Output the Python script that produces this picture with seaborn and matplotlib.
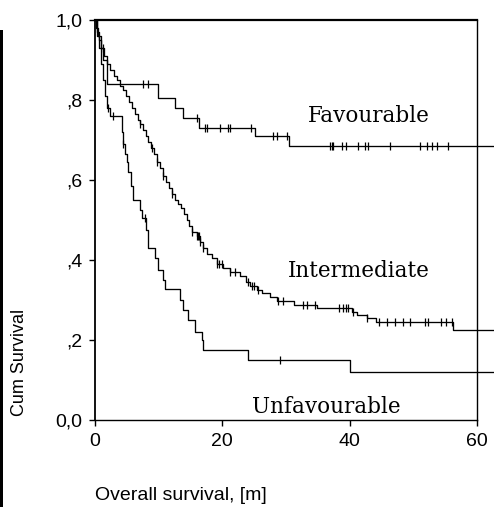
import numpy as np
import pandas as pd
import matplotlib
matplotlib.use("Agg")
import matplotlib.pyplot as plt
import seaborn as sns

# Kaplan-Meier step estimates: event times (months) and survival after each step
fav_times = [0, 0.2, 0.5, 0.9, 1.3, 1.9, 9.9, 12.5, 13.8, 16.3, 25.1, 30.4]
fav_surv = [1.0, 0.98, 0.96, 0.93, 0.90, 0.84, 0.805, 0.78, 0.755, 0.73, 0.71, 0.685]
fav_censored = [7.5, 8.3, 16.0, 17.3, 17.6, 19.6, 20.9, 21.2, 24.5, 27.9, 28.6, 30.1,
                36.9, 37.2, 37.4, 38.8, 39.5, 41.3, 42.4, 42.9, 46.3, 51.0, 52.1,
                52.9, 53.7, 55.4]

int_times = [0, 0.3, 0.6, 0.9, 1.4, 1.9, 2.4, 3.0, 3.5, 3.9, 4.4, 4.9, 5.3, 5.8, 6.3,
             6.7, 7.1, 7.5, 8.0, 8.3, 8.8, 9.3, 9.7, 10.2, 10.7, 11.1, 11.6, 12.1,
             12.6, 13.0, 13.5, 14.0, 14.4, 14.8, 15.2, 16.0, 16.5, 16.9, 17.6, 18.4,
             19.1, 20.1, 21.2, 22.8, 23.7, 24.3, 25.4, 26.2, 27.5, 28.6, 31.2, 34.8,
             40.3, 41.1, 42.7, 44.2, 56.2]
int_surv = [1.0, 0.97, 0.95, 0.93, 0.91, 0.89, 0.875, 0.86, 0.85, 0.835, 0.825, 0.81,
            0.795, 0.78, 0.765, 0.75, 0.74, 0.725, 0.71, 0.695, 0.68, 0.665, 0.645,
            0.63, 0.61, 0.595, 0.58, 0.565, 0.55, 0.54, 0.53, 0.515, 0.5, 0.485, 0.47,
            0.46, 0.445, 0.43, 0.415, 0.405, 0.39, 0.38, 0.37, 0.36, 0.345, 0.335,
            0.325, 0.318, 0.308, 0.297, 0.288, 0.28, 0.27, 0.262, 0.255, 0.245, 0.225]
int_censored = [1.2, 7.1, 8.9, 9.7, 10.7, 12.1, 15.2, 16.0, 16.2, 16.3, 16.5, 16.9,
                19.1, 19.5, 19.9, 21.2, 22.0, 24.0, 24.6, 25.0, 25.6, 28.7, 29.5,
                32.6, 33.3, 34.6, 38.4, 38.9, 39.4, 39.7, 40.5, 42.8, 44.6, 45.8,
                47.1, 48.3, 49.4, 51.8, 52.3, 54.4, 55.2, 56.0]

unf_times = [0, 0.3, 0.6, 0.9, 1.25, 1.6, 1.9, 2.4, 4.2, 4.4, 4.7, 5.0, 5.2, 5.65, 6.0,
             7.1, 7.4, 8.0, 8.3, 9.4, 9.9, 10.7, 11.0, 13.3, 13.8, 14.6, 15.7, 16.8,
             16.9, 24.0, 40.0]
unf_surv = [1.0, 0.96, 0.93, 0.89, 0.85, 0.81, 0.78, 0.76, 0.72, 0.69, 0.665, 0.645,
            0.62, 0.585, 0.55, 0.525, 0.505, 0.475, 0.43, 0.405, 0.375, 0.35, 0.327,
            0.30, 0.275, 0.25, 0.22, 0.20, 0.175, 0.15, 0.12]
unf_censored = [2.0, 2.8, 4.4, 7.8, 29.0]

groups = ["Favourable", "Intermediate", "Unfavourable"]
x_ticks = [0, 20, 40, 60]
y_ticks = [0.0, 0.2, 0.4, 0.6, 0.8, 1.0]
y_tick_labels = ["0,0", ",2", ",4", ",6", ",8", "1,0"]
follow_up_end = 62.7

curves = {
    "Favourable": (fav_times, fav_surv, fav_censored),
    "Intermediate": (int_times, int_surv, int_censored),
    "Unfavourable": (unf_times, unf_surv, unf_censored),
}

step_rows, cens_rows = [], []
for g in groups:
    t, s, c = curves[g]
    tt = list(t) + [follow_up_end]
    ss = list(s) + [s[-1]]
    step_rows.append(pd.DataFrame({"time": tt, "surv": ss, "group": g}))
    idx = np.searchsorted(np.asarray(t), np.asarray(c), side="right") - 1
    cens_rows.append(pd.DataFrame({"time": c, "surv": np.asarray(s)[idx], "group": g}))
steps = pd.concat(step_rows, ignore_index=True)
cens = pd.concat(cens_rows, ignore_index=True)

sns.set_style("white")
plt.rcParams["font.family"] = ["Liberation Sans", "DejaVu Sans"]

W, H = 494, 507
fig = plt.figure(figsize=(W / 100, H / 100), dpi=100)
ax = fig.add_axes([95 / W, 1 - 420 / H, (477 - 95) / W, (420 - 20) / H])

for g in groups:
    sub = steps[steps["group"] == g]
    sns.lineplot(data=sub, x="time", y="surv", ax=ax, color="black", lw=0.95,
                 drawstyle="steps-post", estimator=None, sort=False, legend=False,
                 clip_on=False)
sns.scatterplot(data=cens, x="time", y="surv", ax=ax, marker="|", s=38,
                color="black", linewidth=0.9, legend=False, zorder=3)

ax.set_xlim(0, 60)
ax.set_ylim(0, 1.0)
ax.set_xticks(x_ticks)
ax.set_xticklabels([str(v) for v in x_ticks])
ax.set_yticks(y_ticks)
ax.set_yticklabels(y_tick_labels)
ax.tick_params(axis="both", direction="out", length=4, width=1, color="black",
               labelsize=14, labelcolor="black", pad=5, left=True, bottom=True)
ax.set_xlabel("")
ax.set_ylabel("")

for side, lw in [("top", 1.6), ("left", 1.3), ("right", 1.0), ("bottom", 1.0)]:
    ax.spines[side].set_visible(True)
    ax.spines[side].set_color("black")
    ax.spines[side].set_linewidth(lw)

serif = ["DejaVu Serif"]
ax.text(43.0, 0.745, "Favourable", ha="center", va="baseline", fontsize=15.5,
        family=serif, color="black")
ax.text(41.4, 0.3575, "Intermediate", ha="center", va="baseline", fontsize=15.5,
        family=serif, color="black")
ax.text(36.4, 0.0175, "Unfavourable", ha="center", va="baseline", fontsize=15.5,
        family=serif, color="black")

fig.text(19 / W, 1 - 362 / H, "Cum Survival", rotation=90, ha="center",
         va="center", fontsize=13, color="black")
fig.text(95 / W, 1 - 495 / H, "Overall survival, [m]", ha="left", va="center",
         fontsize=14, color="black")

# dark strip along the left margin
fig.patches.append(plt.Rectangle((0, 0), 3 / W, 1 - 30 / H, transform=fig.transFigure,
                                 facecolor="black", edgecolor="none"))

fig.savefig("out.png", dpi=100)
